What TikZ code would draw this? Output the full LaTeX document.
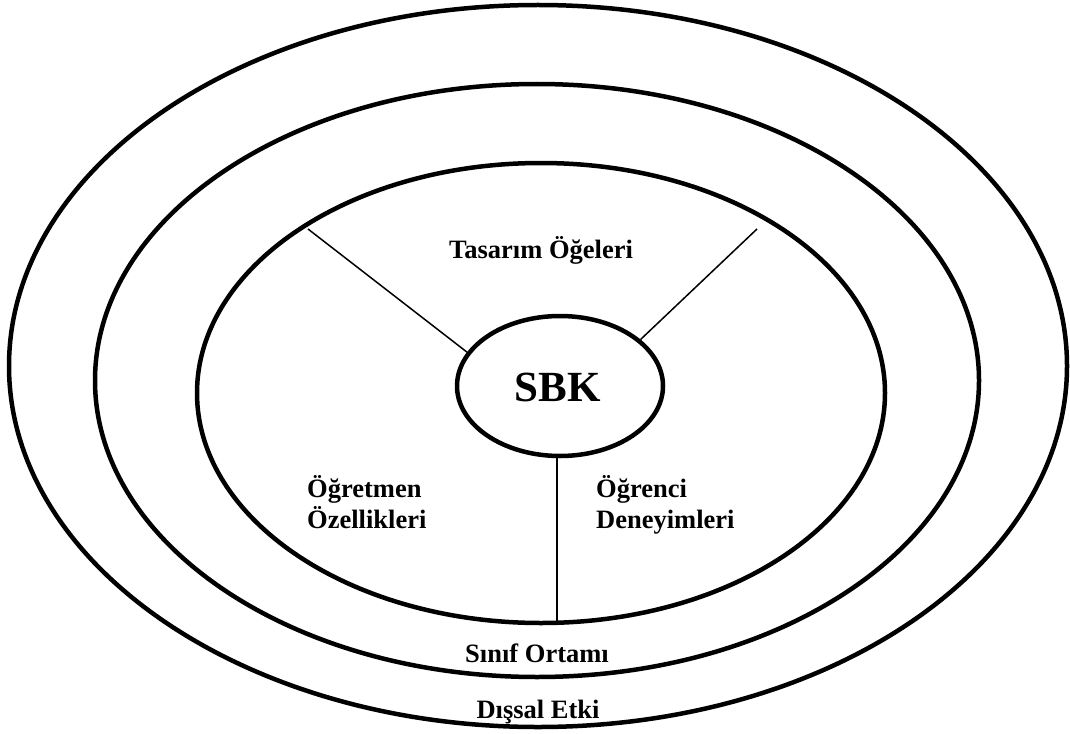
\documentclass[tikz,border=0pt]{standalone}
\usepackage{fontspec}
\setmainfont{Liberation Serif}
\usepackage{tikz}
\usetikzlibrary{shapes.geometric}

\tikzset{
  ring/.style={line width=4.5pt, draw=black},
  spoke/.style={line width=1.5pt},
  lbl/.style={font=\bfseries\fontsize{26.5}{30.5}\selectfont, inner sep=0pt}
}

\begin{document}
\begin{tikzpicture}[x=1pt, y=-1pt]
  \useasboundingbox (0,0) rectangle (1070,733);

  % rings
  \draw[ring] (538,366) ellipse [x radius=529, y radius=361];
  \draw[ring] (537,380.5) ellipse [x radius=442, y radius=296.5];
  \draw[ring] (541,393) ellipse [x radius=344, y radius=230];

  % centre
  \node[ellipse, ring, minimum width=206pt, minimum height=140pt, inner sep=0pt] (sbk) at (560,386) {};
  \node[anchor=base, inner sep=0pt, font=\bfseries\fontsize{43}{50}\selectfont] (sbktxt) at (558,401) {SBK};

  % spokes
  \coordinate (tl) at (308,229);
  \coordinate (tr) at (757,229);
  \coordinate (bot) at (557,621);
  \draw[spoke] (tl) -- (sbk.160.9);
  \draw[spoke] (tr) -- (sbk.30.1);
  \draw[spoke] (bot) -- (bot |- sbk.south);

  % labels
  \node[lbl, anchor=base] (tasarim) at (541,258) {Tasarım Öğeleri};
  \node[lbl, anchor=base west, align=left] (ogretmen) at (307,528) {Öğretmen\\Özellikleri};
  \node[lbl, anchor=base west, align=left] (ogrenci) at (596,528) {Öğrenci\\Deneyimleri};
  \node[lbl, anchor=base] (sinif) at (537,662) {Sınıf Ortamı};
  \node[lbl, anchor=base] (dissal) at (538,718) {Dışsal Etki};
\end{tikzpicture}
\end{document}
